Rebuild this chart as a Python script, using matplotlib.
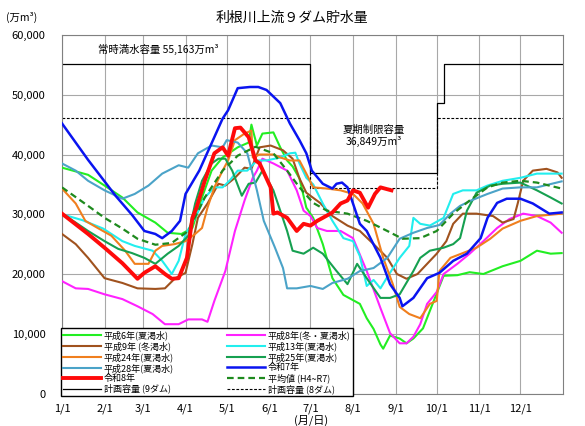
import matplotlib as mpl
mpl.use('Agg')
import matplotlib.pyplot as plt

plt.rcParams['font.family'] = ['Noto Sans CJK JP', 'DejaVu Sans']

# x axis: day of year (0 = 1/1)
month_day = [0, 31, 59, 90, 120, 151, 181, 212, 243, 273, 304, 334]
month_lbl = ['1/1', '2/1', '3/1', '4/1', '5/1', '6/1', '7/1', '8/1', '9/1', '10/1', '11/1', '12/1']
y_ticks = [0, 10000, 20000, 30000, 40000, 50000, 60000]
y_lbl = ['0', '10,000', '20,000', '30,000', '40,000', '50,000', '60,000']

# storage (万m3)
h6_day = [0, 19, 31, 44, 55, 68, 77, 87, 95, 102, 109, 117, 128, 136, 138, 142, 146, 154, 159, 164,
          168, 173, 178, 183, 190, 197, 205, 217, 222, 227, 232, 234, 239, 246, 251, 256, 263, 270, 278, 288,
          297, 307, 321, 334, 346, 356, 364]
h6_val = [37800, 36600, 34800, 32800, 30300, 28600, 26900, 26700, 27700, 32800, 37300, 39500, 41200, 42000, 45000, 41500, 43500, 43700, 41200, 39000,
          38000, 36000, 31100, 29400, 25000, 19300, 16500, 15000, 12600, 10800, 8200, 7500, 9700, 9200, 8400, 9200, 10900, 15000, 19700, 19800,
          20300, 20000, 21300, 22200, 23900, 23400, 23500]

h8_day = [0, 10, 19, 31, 44, 55, 66, 75, 85, 92, 102, 106, 111, 119, 126, 133, 139, 142, 146, 154,
          164, 171, 176, 181, 186, 193, 203, 212, 222, 232, 239, 246, 251, 256, 261, 266, 273, 278, 288, 297,
          307, 317, 326, 336, 346, 356, 364]
h8_val = [18800, 17600, 17500, 16600, 15800, 14600, 13300, 11600, 11600, 12400, 12400, 12000, 15500, 20500, 27200, 32300, 36100, 37300, 39300, 38500,
          37300, 34000, 30600, 29700, 27700, 27200, 27200, 26000, 20500, 14300, 10100, 8400, 8400, 9500, 11600, 15000, 17000, 20000, 21700, 23400,
          25500, 27700, 29200, 30100, 29700, 28600, 26900]

h9_day = [0, 10, 19, 31, 44, 55, 68, 75, 82, 90, 95, 99, 106, 114, 119, 126, 133, 138, 144, 152,
          161, 168, 173, 178, 188, 197, 208, 217, 227, 237, 244, 251, 259, 266, 273, 280, 285, 292, 302, 314,
          321, 329, 332, 336, 343, 353, 361, 364]
h9_val = [26700, 25000, 22700, 19300, 18500, 17600, 17500, 17600, 19200, 20200, 25000, 29400, 31800, 35100, 34800, 36100, 37800, 37600, 41200, 41500,
          40700, 39300, 36000, 33600, 31900, 29700, 28100, 27200, 25000, 22700, 20000, 19200, 20000, 21700, 23400, 25500, 28400, 30100, 30100, 29700,
          28600, 29200, 31800, 35600, 37300, 37600, 37000, 36100]

h13_day = [0, 15, 30, 44, 53, 66, 73, 80, 85, 90, 97, 104, 111, 117, 122, 128, 135, 142, 149, 159,
           166, 170, 173, 178, 183, 190, 197, 205, 212, 217, 222, 227, 232, 237, 246, 253, 256, 261, 268, 278,
           285, 292, 302, 310, 321, 334, 346, 364]
h13_val = [30000, 29000, 27600, 25500, 24700, 23900, 22200, 20000, 22200, 26700, 29400, 32800, 34500, 34500, 35600, 37300, 37300, 39000, 39000, 39500,
           40200, 40300, 38500, 36100, 35000, 31800, 28900, 26000, 25500, 23000, 18000, 19000, 17600, 19500, 22700, 24700, 29400, 28400, 28100, 29400,
           33400, 34000, 34000, 34800, 35600, 36100, 36800, 36800]

h24_day = [0, 10, 17, 26, 36, 46, 53, 63, 68, 73, 82, 90, 97, 102, 106, 111, 117, 121, 126, 133,
           138, 139, 144, 154, 159, 166, 173, 178, 183, 193, 203, 212, 219, 227, 234, 241, 246, 253, 261, 268,
           273, 275, 283, 292, 302, 312, 321, 334, 346, 364]
h24_val = [34300, 31800, 28900, 27700, 26400, 23900, 21700, 21700, 23900, 24700, 25000, 25500, 26700, 27700, 31100, 34500, 37300, 39000, 42400, 43500,
           44000, 39500, 40000, 40000, 39500, 39000, 39000, 36800, 34500, 34300, 34000, 33400, 31800, 28400, 22700, 18300, 14500, 13300, 12600, 15000,
           15500, 20500, 22700, 23500, 24400, 25900, 27600, 28900, 29700, 30100]

h25_day = [0, 10, 19, 31, 41, 51, 60, 68, 77, 85, 92, 97, 102, 109, 114, 119, 124, 131, 136, 141,
           146, 154, 159, 164, 168, 176, 183, 190, 200, 208, 215, 222, 232, 239, 246, 256, 261, 268, 278, 285,
           290, 295, 302, 312, 321, 334, 346, 356, 364]
h25_val = [30100, 28600, 27200, 25500, 24200, 23500, 22700, 21700, 23400, 24700, 26400, 31800, 35600, 38500, 39300, 39300, 37300, 33100, 35100, 35300,
           37300, 34000, 30600, 27200, 23900, 23400, 24400, 23400, 20500, 18300, 21700, 19300, 16000, 16000, 16600, 20500, 22700, 23900, 24400, 25000,
           26000, 30600, 33600, 34800, 35100, 35300, 34000, 32800, 31800]

h28_day = [0, 10, 19, 31, 44, 53, 63, 73, 85, 92, 99, 109, 117, 120, 128, 135, 142, 147, 155, 161,
           164, 171, 181, 190, 197, 208, 217, 227, 237, 246, 256, 266, 275, 283, 290, 298, 310, 321, 334, 346,
           364]
h28_val = [38500, 37300, 35600, 34000, 32600, 33400, 34800, 36800, 38200, 37800, 40200, 41500, 41200, 42400, 42000, 40200, 34000, 28900, 24500, 21000,
           17600, 17600, 18000, 17500, 18500, 19200, 20500, 21000, 22700, 25900, 26900, 27700, 28200, 30100, 31400, 32300, 33400, 34300, 34500, 34500,
           35500]

r7_day = [0, 19, 39, 51, 60, 68, 73, 80, 86, 90, 100, 110, 117, 121, 128, 137, 143, 149, 159, 166,
          173, 178, 182, 190, 197, 200, 204, 208, 212, 217, 222, 232, 239, 246, 248, 256, 266, 275, 285, 295,
          305, 310, 317, 324, 334, 343, 355, 364]
r7_val = [45200, 39100, 33100, 29900, 27200, 26700, 26000, 27200, 28900, 33400, 37300, 42400, 46000, 47400, 51100, 51300, 51300, 50800, 48600, 45200,
          42400, 40200, 37300, 35100, 34300, 35100, 35300, 34500, 31800, 28400, 27200, 22700, 18300, 16000, 14600, 16000, 19300, 20200, 22200, 23400,
          26000, 29400, 31900, 32600, 32600, 31800, 30100, 30300]

r8_day = [0, 19, 31, 44, 55, 60, 68, 75, 80, 85, 91, 95, 98, 104, 111, 117, 121, 126, 130, 136,
          141, 144, 152, 154, 157, 164, 171, 176, 181, 186, 190, 197, 203, 208, 212, 217, 223, 228, 232, 240]
r8_val = [30100, 26700, 24400, 21800, 19200, 20200, 21300, 20000, 19200, 19300, 22700, 29400, 31100, 35600, 40200, 41200, 39800, 44400, 44500, 42900,
          39000, 38500, 34500, 30100, 30300, 29400, 27200, 28400, 28100, 28900, 29400, 30300, 31800, 32300, 34000, 33600, 31100, 33400, 34500, 34000]

avg_day = [0, 19, 31, 44, 55, 68, 80, 92, 104, 117, 128, 141, 154, 164, 173, 183, 193, 208, 222, 237,
           248, 261, 273, 285, 297, 310, 321, 334, 346, 364]
avg_val = [34500, 31400, 29400, 27600, 25900, 24900, 25200, 27200, 32800, 37300, 39800, 41300, 40200, 37300, 34500, 31900, 30600, 30100, 28900, 27200,
           25900, 26000, 27200, 30100, 32300, 34500, 35300, 35600, 35300, 34300]

# planned capacity (step)
plan9_day = [0, 181, 273, 278, 365]
plan9_val = [55163, 36849, 48700, 55163, 55163]
plan8_day = [0, 181, 273, 365]
plan8_val = [46163, 34409, 46163, 46163]

fig = plt.figure(figsize=(5.85, 4.26), dpi=100)
ax = fig.add_axes([62/585, 1 - 393.5/426, 501/585, 358.5/426])

l_p9, = ax.step(plan9_day, plan9_val, where='post', color='black', lw=0.9, label='計画容量 (9ダム)', zorder=2)
l_p8, = ax.step(plan8_day, plan8_val, where='post', color='black', lw=0.8, ls=(0, (2.5, 1.5)), label='計画容量 (8ダム)', zorder=2)

l_h6, = ax.plot(h6_day, h6_val, color='#22ee22', lw=1.5, label='平成6年(夏渇水)', zorder=3)
l_h8, = ax.plot(h8_day, h8_val, color='#ff22ff', lw=1.5, label='平成8年(冬・夏渇水)', zorder=3)
l_h9, = ax.plot(h9_day, h9_val, color='#a0521e', lw=1.5, label='平成9年 (冬渇水)', zorder=3)
l_h13, = ax.plot(h13_day, h13_val, color='#22eeee', lw=1.5, label='平成13年(夏渇水)', zorder=3)
l_h24, = ax.plot(h24_day, h24_val, color='#f07f1e', lw=1.5, label='平成24年(夏渇水)', zorder=3)
l_h25, = ax.plot(h25_day, h25_val, color='#16a050', lw=1.5, label='平成25年(夏渇水)', zorder=3)
l_h28, = ax.plot(h28_day, h28_val, color='#4ba3c8', lw=1.5, label='平成28年(夏渇水)', zorder=3)
l_avg, = ax.plot(avg_day, avg_val, color='#1e8a1e', lw=1.6, ls=(0, (3, 1.8)), label='平均値 (H4~R7)', zorder=4)
l_r7, = ax.plot(r7_day, r7_val, color='#0a14f0', lw=1.8, label='令和7年', zorder=5)
l_r8, = ax.plot(r8_day, r8_val, color='#ff0a0a', lw=2.8, label='令和8年', zorder=6)

ax.set_xlim(0, 365)
ax.set_ylim(0, 60000)
ax.set_xticks(month_day)
ax.set_xticklabels(month_lbl)
ax.set_yticks(y_ticks)
ax.set_yticklabels(y_lbl)
ax.tick_params(length=0, labelsize=8)
ax.tick_params(axis='y', pad=12)
ax.tick_params(axis='x', pad=7)
ax.grid(True, color='#a8a8a8', lw=0.8)
ax.set_axisbelow(True)
for s in ax.spines.values():
    s.set_color('#808080')
    s.set_linewidth(0.8)

ax.text(26, 57600, '常時満水容量 55,163万m³', fontsize=7.5, ha='left', va='center')
ax.text(227, 44200, '夏期制限容量', fontsize=7.5, ha='center', va='center')
ax.text(227, 42200, '36,849万m³', fontsize=7.5, ha='center', va='center')

fig.text(292/585, 1 - 18/426, '利根川上流９ダム貯水量', fontsize=10, ha='center', va='center')
fig.text(6/585, 1 - 17/426, '(万m³)', fontsize=7.5, ha='left', va='center')
fig.text(311/585, 1 - 420/426, '(月/日)', fontsize=8, ha='center', va='center')

handles = [l_h6, l_h9, l_h24, l_h28, l_r8, l_p9, l_h8, l_h13, l_h25, l_r7, l_avg, l_p8]
leg = ax.legend(handles=handles, loc='lower left', ncol=2, mode='expand',
                bbox_to_anchor=(61/585, 1 - 396/426, 292/585, 0.1), bbox_transform=fig.transFigure,
                borderaxespad=0, fontsize=6.5, handlelength=4.2, handletextpad=0.3,
                labelspacing=0.12, borderpad=0.25, columnspacing=1.0,
                fancybox=False, framealpha=1, edgecolor='black')
leg.get_frame().set_linewidth(1.0)
leg.set_zorder(10)

fig.savefig('out.png', dpi=100)
